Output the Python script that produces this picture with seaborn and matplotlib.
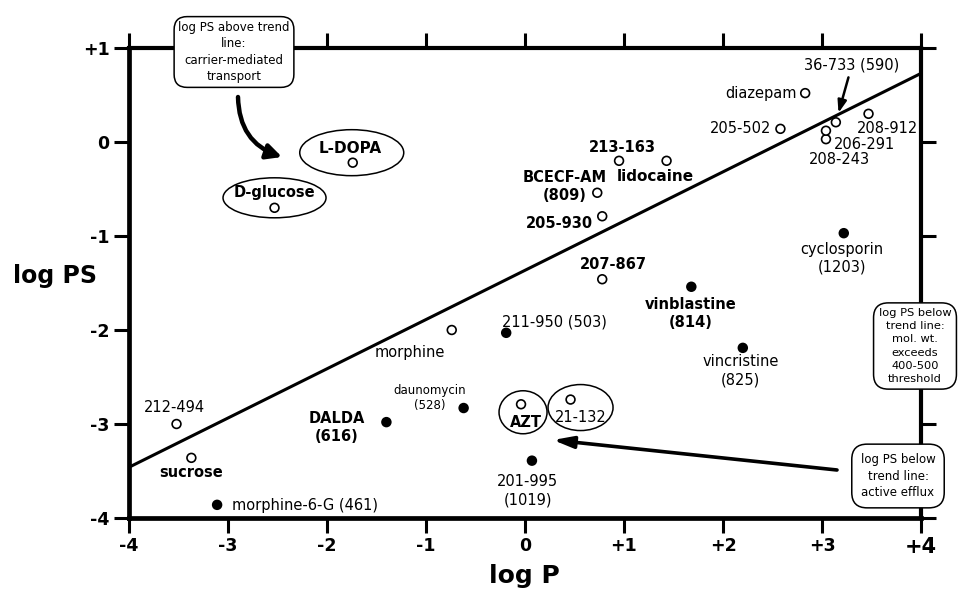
import numpy as np
import pandas as pd
import seaborn as sns
import matplotlib.pyplot as plt
from matplotlib.patches import Ellipse

# open circles: log PS on / above the trend line
open_names = ['L-DOPA', 'D-glucose', '213-163', 'lidocaine', 'BCECF-AM\n(809)', '205-930',
              '207-867', 'diazepam', '205-502', '36-733 (590)', '208-912', '206-291',
              '208-243', '212-494', 'sucrose', 'morphine', 'AZT', '21-132']
open_logp = [-1.74, -2.53, 0.95, 1.43, 0.73, 0.78,
             0.78, 2.83, 2.58, 3.14, 3.47, 3.04,
             3.04, -3.52, -3.37, -0.74, -0.04, 0.46]
open_logps = [-0.22, -0.70, -0.20, -0.20, -0.54, -0.79,
              -1.46, 0.52, 0.14, 0.21, 0.30, 0.03,
              0.12, -3.00, -3.36, -2.00, -2.79, -2.74]

# filled circles: log PS below the trend line
filled_names = ['vinblastine\n(814)', 'cyclosporin\n(1203)', 'vincristine\n(825)', '211-950 (503)',
                'daunomycin\n(528)', 'DALDA\n(616)', '201-995\n(1019)', 'morphine-6-G (461)']
filled_logp = [1.68, 3.22, 2.20, -0.19, -0.62, -1.40, 0.07, -3.11]
filled_logps = [-1.54, -0.97, -2.19, -2.03, -2.83, -2.98, -3.39, -3.86]

# trend line
trend_logp = [-4.0, 4.0]
trend_logps = [-3.46, 0.73]

xticks = [-4, -3, -2, -1, 0, 1, 2, 3, 4]
xticklabels = ['-4', '-3', '-2', '-1', '0', '+1', '+2', '+3', '+4']
yticks = [-4, -3, -2, -1, 0, 1]
yticklabels = ['-4', '-3', '-2', '-1', '0', '+1']

df = pd.DataFrame({
    'compound': open_names + filled_names,
    'logP': open_logp + filled_logp,
    'logPS': open_logps + filled_logps,
    'kind': ['open'] * len(open_names) + ['filled'] * len(filled_names),
})

# label placement: dx, dy (pixels), ha, size, weight
label_layout = {
    'L-DOPA': (-3, 14, 'center', 11, 'bold'),
    'D-glucose': (0, 15, 'center', 10.5, 'bold'),
    '213-163': (3, 13, 'center', 10.5, 'bold'),
    'lidocaine': (-11, -16, 'center', 11, 'bold'),
    'BCECF-AM\n(809)': (-33, 6, 'center', 10.5, 'bold'),
    '205-930': (-9, -7, 'right', 10.5, 'bold'),
    '207-867': (11, 15, 'center', 10.5, 'bold'),
    'diazepam': (-8, 0, 'right', 10.5, 'normal'),
    '205-502': (-9, 0, 'right', 10.5, 'normal'),
    '36-733 (590)': (16, 57, 'center', 10.5, 'normal'),
    '208-912': (19, -15, 'center', 10.5, 'normal'),
    '206-291': (39, -5, 'center', 10.5, 'normal'),
    '208-243': (13, -29, 'center', 10.5, 'normal'),
    '212-494': (-2, 17, 'center', 10.5, 'normal'),
    'sucrose': (0, -15, 'center', 10.5, 'bold'),
    'morphine': (-42, -22, 'center', 10.5, 'normal'),
    'AZT': (5, -18, 'center', 10.5, 'bold'),
    '21-132': (10, -18, 'center', 10.5, 'normal'),
    'vinblastine\n(814)': (-1, -27, 'center', 10.5, 'bold'),
    'cyclosporin\n(1203)': (-2, -25, 'center', 10.5, 'normal'),
    'vincristine\n(825)': (-2, -23, 'center', 10.5, 'normal'),
    '211-950 (503)': (-4, 11, 'left', 10.5, 'normal'),
    'daunomycin\n(528)': (-34, 10, 'center', 8.5, 'normal'),
    'DALDA\n(616)': (-50, -5, 'center', 10.5, 'bold'),
    '201-995\n(1019)': (-4, -30, 'center', 10.5, 'normal'),
    'morphine-6-G (461)': (15, -1, 'left', 10.5, 'normal'),
}

# ellipses round some labels: dx, dy, width, height (pixels)
ellipse_layout = {
    'L-DOPA': (-1, 10, 104, 46),
    'D-glucose': (0, 10, 103, 40),
    'AZT': (2, -8, 48, 43),
    '21-132': (10, -8, 65, 46),
}

sns.set_style('ticks')
plt.rcParams['font.family'] = ['DejaVu Sans']
plt.rcParams['text.color'] = 'black'
plt.rcParams['axes.labelcolor'] = 'black'
plt.rcParams['xtick.color'] = 'black'
plt.rcParams['ytick.color'] = 'black'

W, H = 964, 592
fig = plt.figure(figsize=(W / 100, H / 100), dpi=100)
ax = fig.add_axes([129 / W, 74 / H, 792 / W, 470 / H])

sns.lineplot(x=trend_logp, y=trend_logps, color='black', linewidth=2.2, ax=ax, zorder=2)
sns.scatterplot(data=df, x='logP', y='logPS', hue='kind',
                palette={'open': 'white', 'filled': 'black'},
                edgecolor='black', linewidth=1.2, s=40, legend=False, ax=ax, zorder=3)

ax.set_xlim(-4, 4)
ax.set_ylim(-4, 1)
ax.set_xticks(xticks)
ax.set_xticklabels(xticklabels)
ax.set_yticks(yticks)
ax.set_yticklabels(yticklabels)
ax.tick_params(direction='out', length=11, width=2.2, top=True, right=True,
               labeltop=False, labelright=False, labelsize=12.5, pad=3, color='black',
               labelcolor='black')
for lab in ax.get_xticklabels() + ax.get_yticklabels():
    lab.set_fontweight('bold')
ax.get_xticklabels()[-1].set_fontsize(15)
for side in ['left', 'bottom']:
    ax.spines[side].set_linewidth(3.4)
for side in ['top', 'right']:
    ax.spines[side].set_linewidth(3.0)
for s in ax.spines.values():
    s.set_color('black')

ax.set_xlabel('log P', fontsize=18, fontweight='bold', va='center', color='black')
ax.set_ylabel('log PS', fontsize=17, fontweight='bold', rotation=0, ha='center', va='center',
              color='black')
ax.xaxis.set_label_coords((524 - 129) / 792, (518 - 576) / 470)
ax.yaxis.set_label_coords((55 - 129) / 792, (518 - 276) / 470)

# point labels
px_x = 792 / 8.0
px_y = 470 / 5.0
for name, x, y in zip(df['compound'], df['logP'], df['logPS']):
    dx, dy, ha, size, weight = label_layout[name]
    arrow = None
    if name.startswith('36-733'):
        arrow = dict(arrowstyle='-|>,head_length=0.7,head_width=0.25', lw=1.8,
                     color='black', shrinkA=1, shrinkB=7)
    ax.annotate(name, xy=(x, y), xytext=(dx, dy), textcoords='offset pixels',
                ha=ha, va='center', fontsize=size, fontweight=weight, color='black',
                linespacing=1.25, arrowprops=arrow, zorder=4)
    if name in ellipse_layout:
        ex, ey, ew, eh = ellipse_layout[name]
        ax.add_patch(Ellipse((x + ex / px_x, y + ey / px_y), ew / px_x, eh / px_y,
                             facecolor='none', edgecolor='black', lw=1.1, zorder=4))

# explanatory boxes (positions in image pixels, y from top)
def fpx(x, y):
    return (x, H - y)

box = dict(boxstyle='round,pad=0.35,rounding_size=1.1', facecolor='white',
           edgecolor='black', lw=1.1)
fig.text(234 / W, (H - 52) / H, 'log PS above trend\nline:\ncarrier-mediated\ntransport',
         ha='center', va='center', fontsize=8.5, linespacing=1.35, bbox=box, zorder=6,
         color='black')
fig.text(915 / W, (H - 346) / H, 'log PS below\ntrend line:\nmol. wt.\nexceeds\n400-500\nthreshold',
         ha='center', va='center', fontsize=8.2, linespacing=1.4, color='black',
         bbox=dict(box, boxstyle='round,pad=0.45,rounding_size=1.3'), zorder=6)
fig.text(898 / W, (H - 476) / H, 'log PS below\ntrend line:\nactive efflux',
         ha='center', va='center', fontsize=8.5, linespacing=1.35, color='black',
         bbox=dict(box, boxstyle='round,pad=0.75,rounding_size=1.3'), zorder=6)

# arrows
ax.annotate('', xy=fpx(282, 157), xycoords='figure pixels',
            xytext=fpx(238, 97), textcoords='figure pixels',
            arrowprops=dict(arrowstyle='-|>,head_length=0.9,head_width=0.45', lw=3.2,
                            color='black', connectionstyle='arc3,rad=0.35',
                            shrinkA=0, shrinkB=0),
            annotation_clip=False, zorder=6)
ax.annotate('', xy=fpx(553, 440), xycoords='figure pixels',
            xytext=fpx(837, 470), textcoords='figure pixels',
            arrowprops=dict(arrowstyle='-|>,head_length=1.2,head_width=0.35', lw=2.6,
                            color='black', shrinkA=0, shrinkB=0),
            annotation_clip=False, zorder=6)

fig.savefig('out.png', dpi=100)
